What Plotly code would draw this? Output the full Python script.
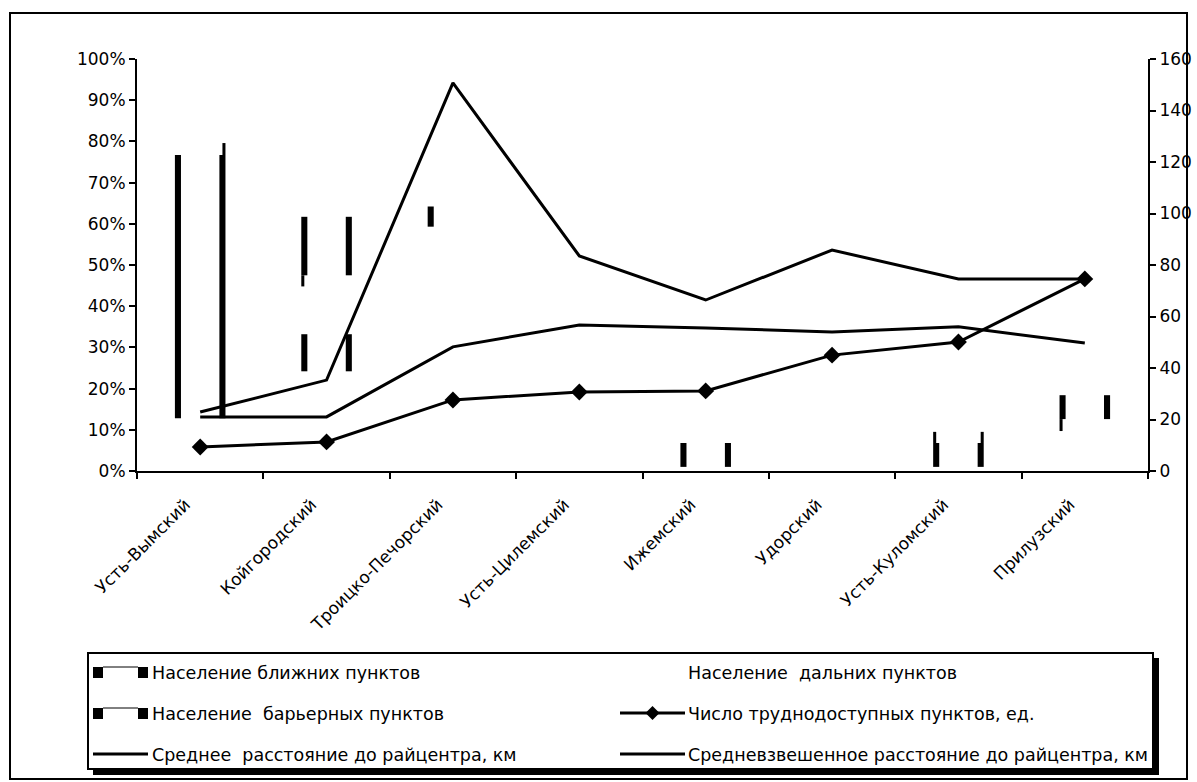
import plotly.graph_objects as go

# ---------------- data ----------------
categories = ["Усть-Вымский", "Койгородский", "Троицко-Печорский", "Усть-Цилемский",
              "Ижемский", "Удорский", "Усть-Куломский", "Прилузский"]

# visible segments of the bars, % (left axis)
near_lo = [12.8, 24.2, None, None, 1.0, None, 1.0, 12.6]
near_hi = [76.7, 33.2, None, None, 6.8, None, 6.8, 18.4]
barrier_lo = [None, 47.5, 59.3, None, None, None, None, None]
barrier_hi = [None, 61.7, 64.2, None, None, None, None, None]
barrier_right_edge = [False, True, False, False, False, False, False, False]

# thin "shadow" extensions of the edges, %
ext_left_lo = [None, 44.8, None, None, None, None, 6.8, 9.7]
ext_left_hi = [None, 47.5, None, None, None, None, 9.5, 12.6]
ext_right_lo = [76.7, None, None, None, None, None, 6.8, None]
ext_right_hi = [79.6, None, None, None, None, None, 9.5, None]

# lines (right axis)
hard_count = [9.3, 11.3, 27.6, 30.7, 31.1, 45.0, 50.1, 74.6]
avg_dist = [22.9, 35.3, 150.7, 83.5, 66.4, 85.8, 74.6, 74.6]
wavg_dist = [21.0, 21.0, 48.2, 56.7, 55.5, 54.0, 56.0, 49.7]

left_ticks = list(range(0, 101, 10))
left_ticktext = [f"{v}%" for v in left_ticks]
right_ticks = list(range(0, 161, 20))

names = {
    "near": "Население ближних пунктов",
    "far": "Население  дальних пунктов",
    "barrier": "Население  барьерных пунктов",
    "hard": "Число труднодоступных пунктов, ед.",
    "avg": "Среднее  расстояние до райцентра, км",
    "wavg": "Средневзвешенное расстояние до райцентра, км",
}

FONT = "DejaVu Sans"
FS_AX = 17
FS_LEG = 17.5

# ---------------- geometry helpers ----------------
W, H = 1197, 782
L, R, T, B = 137, 1148, 59, 471
PW, PH = R - L, B - T


def px(x):
    return (x - L) / PW


def py(y):
    return (B - y) / PH


def heights(lo, hi, mask=None):
    out = []
    for i, (a, b) in enumerate(zip(lo, hi)):
        if a is None or b is None or (mask is not None and not mask[i]):
            out.append(None)
        else:
            out.append(b - a)
    return out


fig = go.Figure()

STRIP = 0.048
THIN = 0.024
LEFT_OFF = -0.200
RIGHT_OFF = 0.152


def strip(lo, hi, offset, width, mask=None):
    fig.add_trace(go.Bar(
        x=categories, y=heights(lo, hi, mask), base=lo,
        offset=offset, width=width,
        marker=dict(color="black", line=dict(width=0)),
        showlegend=False, hoverinfo="skip", yaxis="y"))


# near segments
strip(near_lo, near_hi, LEFT_OFF, STRIP)
strip(near_lo, near_hi, RIGHT_OFF, STRIP)
# barrier segments
strip(barrier_lo, barrier_hi, LEFT_OFF, STRIP)
strip(barrier_lo, barrier_hi, RIGHT_OFF, STRIP, barrier_right_edge)
# extensions
strip(ext_left_lo, ext_left_hi, LEFT_OFF, THIN)
strip(ext_right_lo, ext_right_hi, RIGHT_OFF + STRIP - THIN, THIN)

# line series (data)
fig.add_trace(go.Scatter(x=categories, y=hard_count, name=names["hard"], yaxis="y2",
                         mode="lines+markers", line=dict(color="black", width=3),
                         marker=dict(symbol="diamond", size=13, color="black"),
                         showlegend=False))
fig.add_trace(go.Scatter(x=categories, y=avg_dist, name=names["avg"], yaxis="y2",
                         mode="lines", line=dict(color="black", width=3),
                         showlegend=False))
fig.add_trace(go.Scatter(x=categories, y=wavg_dist, name=names["wavg"], yaxis="y2",
                         mode="lines", line=dict(color="black", width=3),
                         showlegend=False))

# legend entries (swatches drawn as shapes, Excel-like)
legend_map = [("near", "legend"), ("far", "legend"), ("barrier", "legend2"),
              ("hard", "legend2"), ("avg", "legend3"), ("wavg", "legend3")]
for key, lg in legend_map:
    fig.add_trace(go.Scatter(x=[None], y=[None], name=names[key], mode="lines",
                             line=dict(color="rgba(0,0,0,0)", width=1),
                             legend=lg, hoverinfo="skip"))

# ---------------- shapes ----------------
shapes = []
# outer frame
shapes.append(dict(type="rect", xref="paper", yref="paper",
                   x0=px(10), x1=px(1187), y0=py(13), y1=py(779),
                   line=dict(color="black", width=2), fillcolor="rgba(0,0,0,0)", layer="below"))
# legend box
LB_TOP, LB_BOT = 653, 769
shapes.append(dict(type="rect", xref="paper", yref="paper",
                   x0=px(88), x1=px(1153), y0=py(LB_TOP), y1=py(LB_BOT),
                   line=dict(color="black", width=2), fillcolor="rgba(0,0,0,0)", layer="below"))
# legend shadow
shapes.append(dict(type="rect", xref="paper", yref="paper",
                   x0=px(1153), x1=px(1159), y0=py(LB_TOP + 5), y1=py(LB_BOT + 6),
                   line=dict(width=0), fillcolor="black", layer="below"))
shapes.append(dict(type="rect", xref="paper", yref="paper",
                   x0=px(93), x1=px(1159), y0=py(LB_BOT), y1=py(LB_BOT + 6),
                   line=dict(width=0), fillcolor="black", layer="below"))

ROW = {1: 672, 2: 713, 3: 754}
COL1_SW = (93, 148)
COL2_SW = (620, 685)

# bar swatches
for yc in (ROW[1], ROW[2]):
    x0, x1 = COL1_SW
    shapes.append(dict(type="rect", xref="paper", yref="paper",
                       x0=px(x0), x1=px(x0 + 10), y0=py(yc + 6), y1=py(yc - 5),
                       line=dict(width=0), fillcolor="black"))
    shapes.append(dict(type="rect", xref="paper", yref="paper",
                       x0=px(x1 - 10), x1=px(x1), y0=py(yc + 6), y1=py(yc - 5),
                       line=dict(width=0), fillcolor="black"))
    shapes.append(dict(type="line", xref="paper", yref="paper",
                       x0=px(x0 + 10), x1=px(x1 - 10), y0=py(yc - 5), y1=py(yc - 5),
                       line=dict(color="black", width=1)))
# line swatches
for (x0, x1), yc in ((COL1_SW, ROW[3]), (COL2_SW, ROW[2]), (COL2_SW, ROW[3])):
    shapes.append(dict(type="line", xref="paper", yref="paper",
                       x0=px(x0), x1=px(x1), y0=py(yc), y1=py(yc),
                       line=dict(color="black", width=3)))
# diamond on the "hard" swatch
cx, cy, d = (COL2_SW[0] + COL2_SW[1]) / 2, ROW[2], 7
shapes.append(dict(type="path", xref="paper", yref="paper",
                   path=(f"M {px(cx - d)},{py(cy)} L {px(cx)},{py(cy - d)} "
                         f"L {px(cx + d)},{py(cy)} L {px(cx)},{py(cy + d)} Z"),
                   line=dict(width=0), fillcolor="black"))

legend_common = dict(orientation="h", xanchor="left", yanchor="middle",
                     x=px(112), entrywidth=491, entrywidthmode="pixels",
                     bgcolor="rgba(0,0,0,0)", borderwidth=0,
                     font=dict(family=FONT, size=FS_LEG, color="black"),
                     itemclick=False, itemdoubleclick=False)

axis_font = dict(family=FONT, size=FS_AX, color="black")

fig.update_layout(
    width=W, height=H,
    margin=dict(l=L, r=W - R, t=T, b=H - B, autoexpand=False),
    paper_bgcolor="white", plot_bgcolor="white",
    barmode="overlay",
    font=dict(family=FONT, size=FS_AX, color="black"),
    shapes=shapes,
    legend=dict(legend_common, y=py(ROW[1])),
    legend2=dict(legend_common, y=py(ROW[2])),
    legend3=dict(legend_common, y=py(ROW[3])),
    xaxis=dict(type="category", range=[-0.5, 7.5], showgrid=False, zeroline=False,
               showline=True, linecolor="black", linewidth=2,
               ticks="outside", tickson="boundaries", ticklen=6, tickwidth=2, tickcolor="black",
               tickangle=-45, tickfont=axis_font,
               ticklabelshift=-15, ticklabelstandoff=15),
    yaxis=dict(range=[0, 100], tickmode="array", tickvals=left_ticks, ticktext=left_ticktext,
               showgrid=False, zeroline=False, showline=True, linecolor="black", linewidth=2,
               ticks="outside", ticklen=6, tickwidth=2, tickcolor="black", tickfont=axis_font),
    yaxis2=dict(range=[0, 160], tickmode="array", tickvals=right_ticks, overlaying="y",
                side="right", anchor="x",
                showgrid=False, zeroline=False, showline=True, linecolor="black", linewidth=2,
                ticks="outside", ticklen=6, tickwidth=2, tickcolor="black", tickfont=axis_font),
)

fig.write_html("out.html", config={"displayModeBar": False},
               post_script="document.body.style.margin='0px';")
